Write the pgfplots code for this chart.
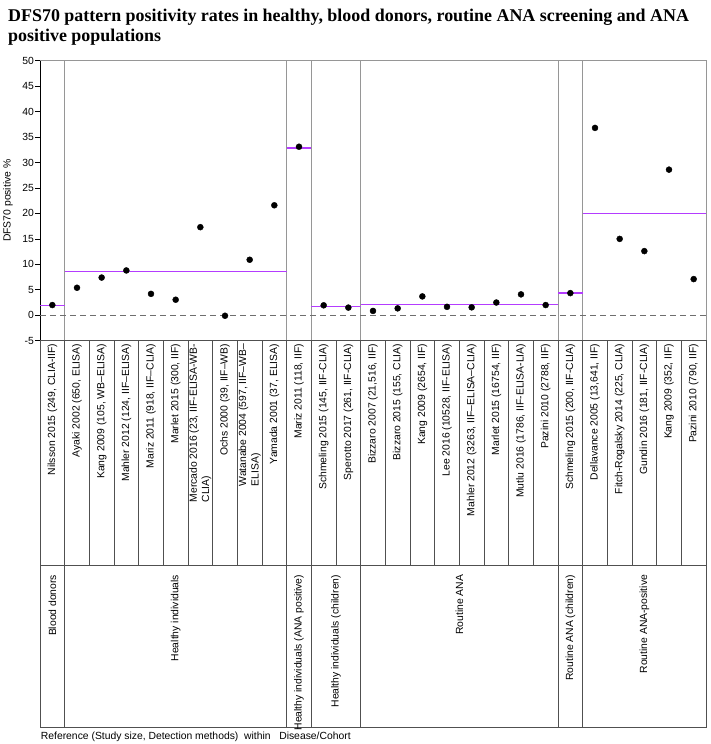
\documentclass[border=0pt]{standalone}
\usepackage{pgfplots}
\pgfplotsset{compat=1.18}
\usepackage{fontspec}
\setmainfont{Liberation Sans}
\newfontfamily\titlefont{Liberation Serif}
\definecolor{meanline}{RGB}{180,60,255}
\definecolor{sepgray}{RGB}{150,150,150}
\definecolor{cellline}{RGB}{80,80,80}
\newcommand{\lab}{\fontsize{10.4}{12.5}\selectfont}

\pgfplotstableread{
x y
1 2.0
2 5.4
3 7.4
4 8.8
5 4.2
6 3.05
7 17.3
8 -0.1
9 10.9
10 21.6
11 33.1
12 1.95
13 1.5
14 0.85
15 1.35
16 3.7
17 1.65
18 1.55
19 2.5
20 4.1
21 2.0
22 4.35
23 36.8
24 15.0
25 12.6
26 28.6
27 7.1
}\rates

% cohort means (segment ends, nan rows break the line)
\pgfplotstableread{
x y
0.5 1.9
1.5 1.9
nan nan
1.5 8.6
10.5 8.6
nan nan
10.5 32.9
11.5 32.9
nan nan
11.5 1.7
13.5 1.7
nan nan
13.5 2.1
21.5 2.1
nan nan
21.5 4.35
22.5 4.35
nan nan
22.5 20.0
27.5 20.0
}\means

\begin{document}
\begin{tikzpicture}[x=1bp,y=1bp]
\useasboundingbox (-40,-403.3) rectangle (671,340.7);
% title
\node[anchor=north west, align=left, inner sep=0,
  font=\titlefont\bfseries\fontsize{18}{20}\selectfont] at (-32,332)
  {DFS70 pattern positivity rates in healthy, blood donors, routine ANA screening and ANA\\positive populations};

\begin{axis}[at={(0,0)}, anchor=south west, scale only axis,
  width=666bp, height=280bp,
  xmin=0.5, xmax=27.5, ymin=-5, ymax=50,
  xtick=\empty, ytick={-5,0,...,50},
  tick align=outside, ytick pos=left, major tick length=5bp,
  tick style={black, line width=0.6bp},
  axis line style={draw=sepgray, line width=0.8bp},
  yticklabel style={font=\lab, /pgf/number format/assume math mode=true, inner sep=1bp},
  ylabel={DFS70 positive \%},
  ylabel style={font=\lab, at={(axis description cs:-0.048,0.5)}, anchor=center},
  unbounded coords=jump,
  clip=false]
% cohort separators
\draw[sepgray, line width=0.8bp] (axis cs:1.5,-5) -- (axis cs:1.5,50);
\draw[sepgray, line width=0.8bp] (axis cs:10.5,-5) -- (axis cs:10.5,50);
\draw[sepgray, line width=0.8bp] (axis cs:11.5,-5) -- (axis cs:11.5,50);
\draw[sepgray, line width=0.8bp] (axis cs:13.5,-5) -- (axis cs:13.5,50);
\draw[sepgray, line width=0.8bp] (axis cs:21.5,-5) -- (axis cs:21.5,50);
\draw[sepgray, line width=0.8bp] (axis cs:22.5,-5) -- (axis cs:22.5,50);
\draw[black, line width=0.8bp] (axis cs:0.5,-5) -- (axis cs:0.5,50);
% zero line
\addplot[draw={rgb,255:red,110;green,110;blue,110}, line width=0.9bp, dash pattern=on 6bp off 4bp] coordinates {(0.5,0) (27.5,0)};
% group means
\addplot[draw=meanline, line width=1.5bp] table {\means};
% studies
\addplot[only marks, mark=*, mark size=3bp, draw=black, fill=black] table {\rates};
\end{axis}

% label table
\draw[cellline, line width=0.8bp] (0,0) rectangle (666,-225);
\foreach \i in {1,...,26} \draw[cellline, line width=0.8bp] ({\i*24.6667},0) -- ({\i*24.6667},-225);
\draw[cellline, line width=0.8bp] (0,-225) rectangle (666,-387);
\foreach \b in {1,10,11,13,21,22} \draw[cellline, line width=0.8bp] ({\b*24.6667},-225) -- ({\b*24.6667},-387);

\foreach \i/\t in {
 1/{Nilsson 2015 (249, CLIA-IIF)},
 2/{Ayaki 2002 (650, ELISA)},
 3/{Kang 2009 (105, WB--ELISA)},
 4/{Mahler 2012 (124, IIF--ELISA)},
 5/{Mariz 2011 (918, IIF--CLIA)},
 6/{Marlet 2015 (300, IIF)},
 7/{Mercado 2016 (23, IIF-ELISA-WB-\\CLIA)},
 8/{Ochs 2000 (39, IIF--WB)},
 9/{Watanabe 2004 (597, IIF--WB--\\ELISA)},
 10/{Yamada 2001 (37, ELISA)},
 11/{Mariz 2011 (118, IIF)},
 12/{Schmeling 2015 (145, IIF-CLIA)},
 13/{Sperotto 2017 (261, IIF-CLIA)},
 14/{Bizzaro 2007 (21,516, IIF)},
 15/{Bizzaro 2015 (155, CLIA)},
 16/{Kang 2009 (2654, IIF)},
 17/{Lee 2016 (10528, IIF-ELISA)},
 18/{Mahler 2012 (3263, IIF--ELISA--CLIA)},
 19/{Marlet 2015 (16754, IIF)},
 20/{Mutlu 2016 (1786, IIF-ELISA-LIA)},
 21/{Pazini 2010 (2788, IIF)},
 22/{Schmeling 2015 (200, IIF-CLIA)},
 23/{Dellavance 2005 (13,641, IIF)},
 24/{Fitch-Rogalsky 2014 (225, CLIA)},
 25/{Gundin 2016 (181, IIF-CLIA)},
 26/{Kang 2009 (352, IIF)},
 27/{Pazini 2010 (790, IIF)}}
 \node[rotate=90, anchor=east, align=left, inner sep=0, font=\lab] at ({(\i-0.5)*24.6667},-3) {\t};

\foreach \c/\t in {
 12.333/{Blood donors},
 135.667/{Healthy individuals},
 259/{Healthy individuals (ANA positive)},
 296/{Healthy individuals (children)},
 419.333/{Routine ANA},
 530.333/{Routine ANA (children)},
 604.333/{Routine ANA-positive}}
 \node[rotate=90, anchor=east, inner sep=0, font=\lab] at (\c,-234) {\t};

\node[anchor=base west, inner sep=0, font=\lab] at (0.7,-398.5)
  {Reference (Study size, Detection methods)\ \ within\ \ \ Disease/Cohort};
\end{tikzpicture}
\end{document}
